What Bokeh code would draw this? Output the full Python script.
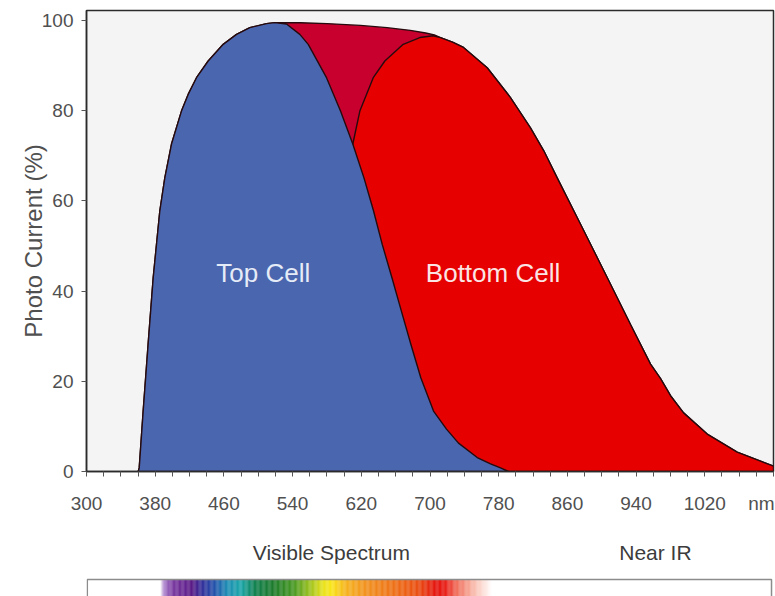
import numpy as np
from bokeh.plotting import figure
from bokeh.layouts import column
from bokeh.models import Range1d, FixedTicker, ColumnDataSource
from bokeh.core.properties import value
from bokeh.embed import file_html
from bokeh.resources import INLINE

# ---------------- data ----------------
TOP_CELL_NM = [360.2, 361.4, 366.0, 371.8, 377.7, 385.4, 391.2, 399.0, 410.6, 418.4,
               428.1, 441.7, 459.2, 474.7, 490.2, 509.6, 519.3, 532.9, 548.4, 558.2,
               579.5, 595.8, 610.1, 623.1, 634.2, 644.3, 655.6, 666.6, 677.7, 689.3,
               704.1, 719.2, 733.2, 755.0, 770.5, 782.1, 791.4]
TOP_CELL_PCT = [0.0, 0.8, 13.4, 28.3, 43.0, 57.8, 65.1, 72.6, 79.9, 83.6,
                87.3, 91.0, 94.7, 96.9, 98.4, 99.3, 99.5, 99.2, 96.9, 94.7,
                87.3, 79.9, 72.6, 65.1, 57.8, 50.4, 43.0, 35.6, 28.2, 20.8,
                13.4, 9.4, 6.3, 3.1, 1.7, 0.8, 0.0]

BOTTOM_CELL_NM = [584.0, 600.0, 610.1, 618.3, 633.9, 647.4, 668.8, 688.1, 703.7, 712.2,
                  726.2, 739.0, 766.6, 793.7, 817.0, 832.5, 848.1, 877.2, 906.3, 934.5,
                  956.8, 968.5, 980.1, 995.3, 1022.8, 1057.7, 1084.9, 1100.0]
BOTTOM_CELL_PCT = [0.0, 38.0, 72.6, 79.9, 87.3, 91.0, 94.7, 96.2, 96.6, 96.2,
                   95.2, 94.0, 89.5, 82.9, 76.2, 71.1, 65.1, 54.1, 43.0, 32.2,
                   23.8, 20.6, 16.8, 13.0, 8.3, 4.3, 2.3, 1.2]

ENVELOPE_NM = [549.0, 580.0, 619.0, 650.0, 677.0, 695.0, 705.0]
ENVELOPE_PCT = [99.5, 99.3, 98.9, 98.4, 97.8, 97.2, 96.8]

X_TICKS = [300, 380, 460, 540, 620, 700, 780, 860, 940, 1020]
X_UNIT_POS = 1086
Y_TICKS = [0, 20, 40, 60, 80, 100]

CELL_LABELS = ["Top Cell", "Bottom Cell"]
CELL_LABEL_NM = [505.8, 773.4]
CELL_LABEL_PCT = [44.0, 44.0]

BAND_LABELS = ["Visible Spectrum", "Near IR"]
BAND_LABEL_NM = [583.7, 963.8]

SPECTRUM_NM = [383, 388, 398, 420, 432, 446, 462, 478, 494, 516, 540, 558, 574, 584,
               600, 625, 655, 685, 706, 716, 730, 750, 772]
SPECTRUM_COLORS = ["#ffffff", "#a77cc8", "#7a3aa0", "#5a1a86", "#33309a", "#2450aa",
                   "#1f8fb5", "#1aa5a8", "#128050", "#1e7c2c", "#4a9a24", "#9ac01e",
                   "#e8e21c", "#f9e51a", "#f6b41e", "#f19020", "#ee7318", "#ea4f12",
                   "#e41610", "#e81a14", "#f06a58", "#f8b8a8", "#ffffff"]

# ---------------- style ----------------
FONT = "Liberation Sans"
X_START, X_END = 300, 1100
Y_START, Y_END = 0, 102.2
W = 775
H_MAIN = 521
H_BAND = 75
BORDER_L, BORDER_R = 86, 2
LINE = "#260a0e"
AXIS_COLOR = "#2b2b2b"
TEXT_COLOR = "#505050"

p = figure(width=W, height=H_MAIN, x_range=Range1d(X_START, X_END),
           y_range=Range1d(Y_START, Y_END), output_backend="svg",
           toolbar_location=None, min_border_left=BORDER_L, min_border_right=BORDER_R,
           min_border_top=10, min_border_bottom=50)
p.background_fill_color = "#f4f4f4"
p.border_fill_color = "white"
p.outline_line_color = AXIS_COLOR
p.outline_line_width = 1.5
p.grid.visible = False

# combined response (crimson), drawn first
peak = TOP_CELL_PCT.index(max(TOP_CELL_PCT)) + 1
tail = [i for i, x in enumerate(BOTTOM_CELL_NM) if x > ENVELOPE_NM[-1]]
comb_x = TOP_CELL_NM[:peak] + ENVELOPE_NM + [BOTTOM_CELL_NM[i] for i in tail]
comb_y = TOP_CELL_PCT[:peak] + ENVELOPE_PCT + [BOTTOM_CELL_PCT[i] for i in tail]
comb_x = comb_x + [comb_x[-1]]
comb_y = comb_y + [0.0]
p.patch(comb_x, comb_y, fill_color="#c8002e", line_color=LINE, line_width=1.4,
        line_join="round")

bot_x = BOTTOM_CELL_NM + [BOTTOM_CELL_NM[-1]]
bot_y = BOTTOM_CELL_PCT + [0.0]
p.patch(bot_x, bot_y, fill_color="#e60000", line_color=LINE, line_width=1.4,
        line_join="round")

p.patch(TOP_CELL_NM, TOP_CELL_PCT, fill_color="#4a66ae", line_color=LINE,
        line_width=1.4, line_join="round")

p.text(x=CELL_LABEL_NM, y=CELL_LABEL_PCT, text=CELL_LABELS,
       text_font=value(FONT), text_font_size="26px", text_align="center",
       text_baseline="middle", text_color=["#e6ecf7", "#fbe4e4"])

xa = p.xaxis[0]
xa.ticker = FixedTicker(ticks=X_TICKS + [X_UNIT_POS],
                        minor_ticks=list(range(X_START, X_END + 1, 20)))
xa.major_label_overrides = {X_UNIT_POS: "nm"}
xa.major_tick_out = 0
xa.major_tick_in = 0
xa.minor_tick_out = 5
xa.minor_tick_in = 0
xa.minor_tick_line_color = "#555555"
xa.major_label_standoff = 16
xa.major_label_text_font = FONT
xa.major_label_text_font_size = "19px"
xa.major_label_text_color = TEXT_COLOR
xa.axis_line_color = AXIS_COLOR
xa.axis_line_width = 1.5

ya = p.yaxis[0]
ya.ticker = FixedTicker(ticks=Y_TICKS, minor_ticks=[])
ya.major_tick_out = 5
ya.major_tick_in = 0
ya.major_tick_line_color = "#555555"
ya.major_label_standoff = 8
ya.major_label_text_font = FONT
ya.major_label_text_font_size = "19px"
ya.major_label_text_color = TEXT_COLOR
ya.axis_label = "Photo Current (%)"
ya.axis_label_text_font = FONT
ya.axis_label_text_font_size = "24px"
ya.axis_label_text_font_style = "normal"
ya.axis_label_text_color = TEXT_COLOR
ya.axis_label_standoff = -8
ya.axis_line_color = AXIS_COLOR
ya.axis_line_width = 1.5

# ---------------- spectrum band ----------------
scale = (W - BORDER_L - BORDER_R) / (X_END - X_START)
q_start = X_START - 3 / scale
q = figure(width=W, height=H_BAND,
           x_range=Range1d(q_start, X_END + 2 / scale),
           y_range=Range1d(0, H_BAND), output_backend="svg", toolbar_location=None,
           min_border=0, min_border_left=BORDER_L - 3, min_border_right=0,
           x_axis_location=None, y_axis_location=None)
q.grid.visible = False
q.outline_line_color = None
q.background_fill_color = "white"
q.border_fill_color = "white"

q.text(x=BAND_LABEL_NM, y=[44, 44], text=BAND_LABELS, text_font=value(FONT),
       text_font_size="21px", text_align="center", text_baseline="middle",
       text_color="#3c3c3c")

def hex2rgb(h):
    return np.array([int(h[i:i + 2], 16) for i in (1, 3, 5)], dtype=float)

stops = np.array(SPECTRUM_NM, dtype=float)
rgbs = np.array([hex2rgb(c) for c in SPECTRUM_COLORS])
fine = np.arange(stops[0], stops[-1], 1.0)
cols = []
for nm in fine:
    c = [np.interp(nm + 0.5, stops, rgbs[:, k]) for k in range(3)]
    cols.append("#%02x%02x%02x" % tuple(int(round(v)) for v in c))
src = ColumnDataSource(dict(left=fine, right=fine + 1.3, color=cols))
q.quad(left="left", right="right", bottom=-10, top=17, fill_color="color",
       line_color=None, source=src)
q.quad(left=[q_start + 0.8 / scale], right=[X_END], bottom=[-10], top=[17],
       fill_color=None, line_color="#8c8c8c", line_width=1.5)

layout = column(p, q, spacing=0)
open("out.html", "w").write(file_html(layout, INLINE))
